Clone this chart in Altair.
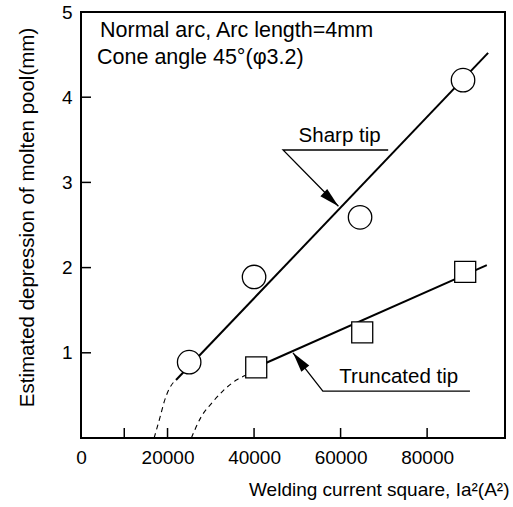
import altair as alt
import pandas as pd

# ---- data ----
sharp_x = [25000, 40000, 64500, 88300]
sharp_y = [0.89, 1.89, 2.59, 4.20]
trunc_x = [40500, 65000, 88800]
trunc_y = [0.83, 1.24, 1.95]

# fitted straight lines (endpoints)
sharp_fit_x = [21960, 94100]
sharp_fit_y = [0.68, 4.52]
trunc_fit_x = [40500, 93800]
trunc_fit_y = [0.83, 2.03]

# dashed extrapolations toward zero
sharp_dash_x = [21960, 21500, 19200, 18300, 16900]
sharp_dash_y = [0.68, 0.66, 0.42, 0.25, 0.0]
trunc_dash_x = [38200, 35900, 30400, 27800, 25500]
trunc_dash_y = [0.74, 0.68, 0.42, 0.25, 0.0]

# annotation leader lines (underline + arrow)
sharp_lead_x = [71000, 46700, 59500]
sharp_lead_y = [3.38, 3.38, 2.72]
trunc_lead_x = [89900, 55900, 49000]
trunc_lead_y = [0.55, 0.55, 1.0]

note_text = ["Normal arc, Arc length=4mm", "Cone angle 45°(φ3.2)"]
note_x = [4400, 3700]
note_y = [4.71, 4.39]

label_text = ["Sharp tip", "Truncated tip"]
label_x = [50300, 59700]
label_y = [3.47, 0.645]

x_tick_vals = [10000, 20000, 40000, 60000, 80000]
y_tick_vals = [1, 2, 3, 4]
x_label_vals = [0, 20000, 40000, 60000, 80000]
y_label_vals = [1, 2, 3, 4, 5]

W, H = 424, 426
FONT = "Liberation Sans"

xs = alt.Scale(domain=[0, 98000], nice=False, zero=False)
ys = alt.Scale(domain=[0, 5], nice=False, zero=False)

pts_sharp = pd.DataFrame({"x": sharp_x, "y": sharp_y})
pts_trunc = pd.DataFrame({"x": trunc_x, "y": trunc_y})

fit = pd.DataFrame({
    "x": sharp_fit_x + trunc_fit_x,
    "y": sharp_fit_y + trunc_fit_y,
    "s": ["sharp"] * 2 + ["trunc"] * 2,
})
dash = pd.DataFrame({
    "x": sharp_dash_x + trunc_dash_x,
    "y": sharp_dash_y + trunc_dash_y,
    "s": ["sharp"] * len(sharp_dash_x) + ["trunc"] * len(trunc_dash_x),
})
lead = pd.DataFrame({
    "x": sharp_lead_x + trunc_lead_x,
    "y": sharp_lead_y + trunc_lead_y,
    "s": ["sharp"] * 3 + ["trunc"] * 3,
    "o": [0, 1, 2] * 2,
})
heads = pd.DataFrame({"x": [sharp_lead_x[2], trunc_lead_x[2]],
                      "y": [sharp_lead_y[2], trunc_lead_y[2]]})
notes = pd.DataFrame({"x": note_x, "y": note_y, "t": note_text})
labels = pd.DataFrame({"x": label_x, "y": label_y, "t": label_text})
xt = pd.DataFrame({"x": x_tick_vals})
yt = pd.DataFrame({"y": y_tick_vals})

x_axis = alt.Axis(values=x_label_vals, format="d", ticks=False, domain=False, grid=False,
                  labelFontSize=19, labelColor="black", labelPadding=10, labelFont=FONT,
                  labelOverlap=False, labelFlush=False,
                  title="Welding current square, Ia²(A²)", titleFont=FONT, titleFontSize=19,
                  titleFontWeight="normal", titleColor="black", titleAnchor="end",
                  titleAlign="right", titleX=428, titleY=57, titleBaseline="alphabetic")
y_axis = alt.Axis(values=y_label_vals, ticks=False, domain=False, grid=False,
                  labelFontSize=19, labelColor="black", labelPadding=9, labelFont=FONT,
                  labelOverlap=False, labelFlush=False,
                  title="Estimated depression of molten pool(mm)", titleFont=FONT,
                  titleFontSize=20.5, titleFontWeight="normal", titleColor="black",
                  titleAngle=270, titleX=-54, titleY=205, titleAlign="center",
                  titleBaseline="middle")

X = alt.X("x:Q", scale=xs, axis=x_axis)
Y = alt.Y("y:Q", scale=ys, axis=y_axis)

dash_layer = alt.Chart(dash).mark_line(color="black", strokeWidth=1.1, strokeDash=[5, 4],
                                       interpolate="monotone").encode(x=X, y=Y, detail="s:N")
fit_layer = alt.Chart(fit).mark_line(color="black", strokeWidth=2).encode(x=X, y=Y, detail="s:N")
lead_layer = alt.Chart(lead).mark_line(color="black", strokeWidth=1.3).encode(
    x=X, y=Y, detail="s:N", order="o:Q")
arrow_path = "M0,0 L-0.5,2 L0.5,2 Z"
head_sharp = alt.Chart(heads.iloc[[0]]).mark_point(
    shape=arrow_path, filled=True, color="black", size=400, angle=133, opacity=1
).encode(x=X, y=Y)
head_trunc = alt.Chart(heads.iloc[[1]]).mark_point(
    shape=arrow_path, filled=True, color="black", size=400, angle=322, opacity=1
).encode(x=X, y=Y)
circ = alt.Chart(pts_sharp).mark_point(shape="circle", filled=True, fill="white", stroke="black",
                                       strokeWidth=1.3, size=550, opacity=1).encode(x=X, y=Y)
sq = alt.Chart(pts_trunc).mark_point(shape="square", filled=True, fill="white", stroke="black",
                                     strokeWidth=1.3, size=441, opacity=1).encode(x=X, y=Y)
note_layer = alt.Chart(notes).mark_text(align="left", baseline="alphabetic", fontSize=21.5,
                                        font=FONT, color="black").encode(x=X, y=Y, text="t:N")
label_layer = alt.Chart(labels).mark_text(align="left", baseline="alphabetic", fontSize=20.5,
                                          font=FONT, color="black").encode(x=X, y=Y, text="t:N")
xtick_layer = alt.Chart(xt).mark_rule(color="black", strokeWidth=1.5).encode(
    x=X, y=alt.value(H), y2=alt.value(H - 10))
ytick_layer = alt.Chart(yt).mark_rule(color="black", strokeWidth=1.5).encode(
    y=Y, x=alt.value(0), x2=alt.value(10))

chart = alt.layer(
    dash_layer, fit_layer, lead_layer, head_sharp, head_trunc, circ, sq,
    note_layer, label_layer, xtick_layer, ytick_layer
).properties(
    width=W, height=H,
    padding={"left": 81, "top": 12, "right": 8, "bottom": 69},
    autosize=alt.AutoSizeParams(type="none"),
    background="white",
).configure_view(stroke="black", strokeWidth=2)

chart.save("out.html", embed_options={"renderer": "svg", "actions": False})
